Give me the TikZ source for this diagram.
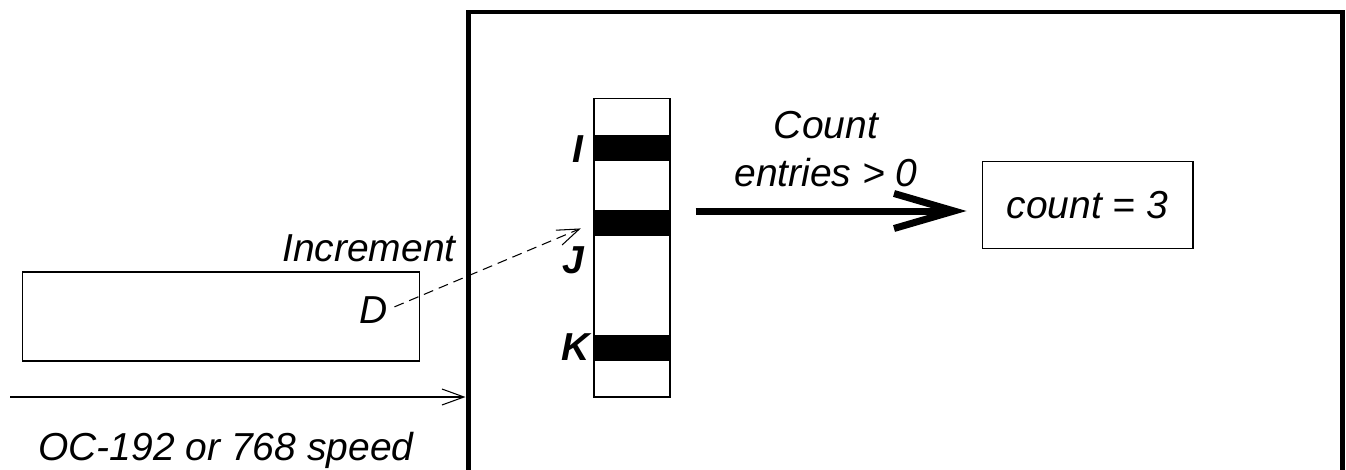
\documentclass[tikz,border=0pt]{standalone}
\usepackage{fontspec}
\setmainfont{Liberation Sans}
\usetikzlibrary{arrows.meta, positioning}

\begin{document}
\begin{tikzpicture}[
  x=0.02cm, y=-0.02cm,
  txt/.style={inner sep=0pt, font=\fontsize{22.2}{27}\selectfont\itshape},
  idx/.style={inner sep=0pt, font=\fontsize{22.2}{27}\selectfont\bfseries\itshape},
  frame/.style={line width=0.1cm},
  colbox/.style={rectangle, draw, line width=0.6pt, minimum width=1.52cm, minimum height=5.98cm, inner sep=0pt},
  bar/.style={rectangle, fill=black, minimum width=1.52cm, minimum height=0.52cm, inner sep=0pt},
  plainbox/.style={rectangle, draw, line width=0.6pt, inner sep=0pt},
  thinarr/.style={-{Straight Barb[length=0.44cm, width=0.32cm]}, line width=0.6pt},
  bigarr/.style={-{Straight Barb[length=1.2cm, width=0.7cm]}, line width=0.14cm}
]
\useasboundingbox (0,0) rectangle (1346,470);

% outer frame, open at the bottom
\coordinate (fl) at (468,12);
\coordinate (fr) at (1342,12);
\draw[frame] (fl |- 0,480) -- (fl) -- (fr) -- (fr |- 0,480);

% table column with the three hit entries
\node[bar] (barI) at (632,148) {};
\node[bar] (barJ) at (632,223) {};
\node[bar] (barK) at (632,348) {};
\node[colbox] (col) at (632,247.5) {};
\node[idx, anchor=base east] (lblI) at (584,162) {I};
\node[idx, anchor=base east] (lblJ) at (585,273) {J};
\node[idx, anchor=base east] (lblK) at (590,360) {K};

% result box
\node[plainbox, minimum width=4.22cm, minimum height=1.74cm, font=\fontsize{22.2}{27}\selectfont\itshape] (cnt) at (1087.5,205) {count = 3};
\coordinate (cntin) at ([yshift=-0.12cm]cnt.west);
\node[txt, align=center] (cntlbl) at (826,149) {Count\\entries > 0};
\draw[bigarr, shorten <=0.5cm, shorten >=0.3cm] (col.east |- cntin) -- (cntin);

% incoming packet buffer
\node[plainbox, minimum width=7.96cm, minimum height=1.78cm] (buf) at (221,316.5) {};
\node[txt, anchor=base east] (d) at (388,323) {D};
\node[txt, anchor=base east] (inc) at (456,261) {Increment};
\draw[thinarr, dashed, dash pattern=on 0.2cm off 0.12cm, shorten <=0.14cm, shorten >=0.28cm] (d.east) -- (barJ.west);

% line feed
\coordinate (in) at (10,397);
\draw[thinarr, shorten >=0.05cm] (in) -- (in -| fl);
\node[txt, anchor=base west] (speed) at (38,460) {OC-192 or 768 speed};
\end{tikzpicture}
\end{document}
